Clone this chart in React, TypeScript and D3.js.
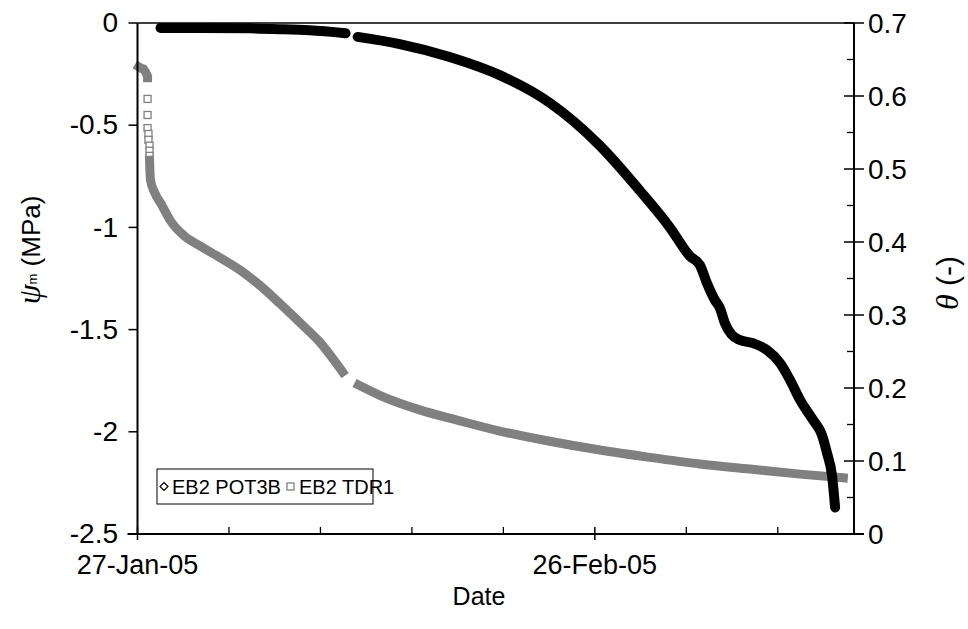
import React from "react";
import * as d3 from "d3";

// ---- data (days after 27-Jan-05, value) ----
const potBeforeGap: [number, number][] = [
  [1.51, -0.024], [4.07, -0.024], [7.35, -0.026], [9.32, -0.03], [11.29, -0.036], [13.65, -0.05],
];
const potAfterGap: [number, number][] = [
  [14.44, -0.068], [17.2, -0.103], [20.48, -0.166], [23.76, -0.255], [27.04, -0.39],
  [30.33, -0.6], [32.95, -0.82], [34.92, -1.0], [36.23, -1.14], [36.89, -1.184],
  [37.35, -1.272], [37.87, -1.355], [38.2, -1.394], [38.53, -1.468], [38.99, -1.526],
  [39.52, -1.551], [40.37, -1.566], [41.29, -1.6], [42.14, -1.663], [42.8, -1.746],
  [43.46, -1.844], [44.31, -1.942], [44.9, -2.016], [45.23, -2.104], [45.56, -2.215],
  [45.76, -2.37],
];
const tdrCluster: [number, number][] = [
  [0.08, 0.64], [0.23, 0.638], [0.39, 0.637], [0.53, 0.633], [0.66, 0.627], [0.66, 0.625],
];
const tdrSparse: [number, number][] = [
  [0.66, 0.596], [0.66, 0.574], [0.66, 0.556], [0.72, 0.548], [0.72, 0.54], [0.79, 0.532],
  [0.79, 0.525], [0.79, 0.518],
];
const tdrBeforeGap: [number, number][] = [
  [0.79, 0.512], [0.85, 0.485], [1.12, 0.468], [1.58, 0.451], [2.23, 0.427], [3.09, 0.408],
  [4.07, 0.395], [5.38, 0.379], [6.7, 0.362], [8.0, 0.341], [9.32, 0.316], [10.63, 0.29],
  [11.95, 0.263], [13.45, 0.222],
];
const tdrAfterGap: [number, number][] = [
  [14.5, 0.204], [15.89, 0.19], [18.51, 0.17], [21.14, 0.155], [23.76, 0.141], [27.04, 0.127],
  [30.33, 0.115], [33.61, 0.105], [36.89, 0.096], [40.17, 0.089], [43.46, 0.082], [46.3, 0.077],
];

const leftTicks = [0, -0.5, -1, -1.5, -2, -2.5];
const rightTicks = [0, 0.1, 0.2, 0.3, 0.4, 0.5, 0.6, 0.7];
const rightMinor = [0.05, 0.15, 0.25, 0.35, 0.45, 0.55, 0.65];
const xMajorDays = [0, 30];
const xMajorLabels = ["27-Jan-05", "26-Feb-05"];
const xMinorDays = [6, 12, 18, 24, 36, 42];
const seriesNames = ["EB2 POT3B", "EB2 TDR1"];

const START = new Date(2005, 0, 27);
const dayToDate = (d: number) => new Date(START.getTime() + d * 86400000);

const L = 137.5, R = 854, T = 23, B = 534;
const FONT = "Liberation Sans, Arial, sans-serif";
const FS = 28;

export default function App() {
  const x = d3.scaleTime().domain([START, dayToDate(47)]).range([L, R]);
  const yL = d3.scaleLinear().domain([-2.5, 0]).range([B, T]);
  const yR = d3.scaleLinear().domain([0, 0.7]).range([B, T]);

  const lineL = d3.line<[number, number]>().x((d) => x(dayToDate(d[0]))).y((d) => yL(d[1])).curve(d3.curveMonotoneX);
  const lineR = d3.line<[number, number]>().x((d) => x(dayToDate(d[0]))).y((d) => yR(d[1])).curve(d3.curveMonotoneX);
  const lineRc = d3.line<[number, number]>().x((d) => x(dayToDate(d[0]))).y((d) => yR(d[1]));

  const gray = "#808080";

  return (
    <svg width={968} height={629} style={{ position: "absolute", left: 0, top: 0, background: "#fff" }} fontFamily={FONT}>
      <rect x={0} y={0} width={968} height={629} fill="#fff" />
      {/* gray series */}
      <path d={lineRc(tdrCluster) || ""} fill="none" stroke={gray} strokeWidth={9} strokeLinecap="square" />
      {tdrSparse.map((d, i) => (
        <rect key={i} x={x(dayToDate(d[0])) - 3.5} y={yR(d[1]) - 3.5} width={7} height={7} fill="#fff" stroke={gray} strokeWidth={1.3} />
      ))}
      <path d={lineR(tdrBeforeGap) || ""} fill="none" stroke={gray} strokeWidth={9} strokeLinecap="square" />
      <path d={lineR(tdrAfterGap) || ""} fill="none" stroke={gray} strokeWidth={9} strokeLinecap="square" />
      {/* black series */}
      <path d={lineL(potBeforeGap) || ""} fill="none" stroke="#000" strokeWidth={10} strokeLinecap="round" />
      <path d={lineL(potAfterGap) || ""} fill="none" stroke="#000" strokeWidth={10} strokeLinecap="round" />

      {/* frame */}
      <line x1={L} x2={R} y1={T} y2={T} stroke="#000" strokeWidth={1.5} />
      <line x1={L} x2={L} y1={T} y2={B} stroke="#000" strokeWidth={2} />
      <line x1={R} x2={R} y1={T} y2={B} stroke="#000" strokeWidth={2} />
      <line x1={L - 10} x2={R + 10} y1={B} y2={B} stroke="#000" strokeWidth={2} />

      {/* left axis */}
      {leftTicks.map((v) => (
        <g key={v}>
          <line x1={L - 9} x2={L} y1={yL(v)} y2={yL(v)} stroke="#000" strokeWidth={1.5} />
          <text x={118} y={yL(v)} dy="0.33em" textAnchor="end" fontSize={FS}>{v}</text>
        </g>
      ))}
      {/* right axis */}
      {rightTicks.map((v) => (
        <g key={v}>
          <line x1={R - 10} x2={R + 10} y1={yR(v)} y2={yR(v)} stroke="#000" strokeWidth={1.5} />
          <text x={868} y={yR(v)} dy="0.35em" textAnchor="start" fontSize={FS}>{v === 0 ? "0" : v.toFixed(1)}</text>
        </g>
      ))}
      {rightMinor.map((v) => (
        <line key={v} x1={R - 7} x2={R} y1={yR(v)} y2={yR(v)} stroke="#000" strokeWidth={1.3} />
      ))}
      {/* x axis */}
      {xMajorDays.map((d, i) => (
        <g key={d}>
          <line x1={x(dayToDate(d))} x2={x(dayToDate(d))} y1={B - 7} y2={B + 6} stroke="#000" strokeWidth={1.5} />
          <text x={x(dayToDate(d))} y={574} textAnchor="middle" fontSize={27}>{xMajorLabels[i]}</text>
        </g>
      ))}
      {xMinorDays.map((d) => (
        <line key={d} x1={x(dayToDate(d))} x2={x(dayToDate(d))} y1={B - 7} y2={B} stroke="#000" strokeWidth={1.3} />
      ))}
      <text x={479} y={605} textAnchor="middle" fontSize={25}>Date</text>

      {/* left title */}
      <text transform="translate(40,250) rotate(-90)" textAnchor="middle" fontSize={26}>
        <tspan fontFamily="Liberation Serif, serif" fontStyle="italic" fontSize={32}>ψ</tspan>
        <tspan fontSize={13} dy={-3}>m</tspan>
        <tspan dy={3}> (MPa)</tspan>
      </text>
      {/* right title */}
      <text transform="translate(958,283) rotate(-90)" textAnchor="middle" fontSize={30}>
        <tspan fontFamily="Liberation Serif, serif" fontStyle="italic" fontSize={32}>θ</tspan>
        <tspan>{"    (-)"}</tspan>
      </text>

      {/* legend */}
      <g>
        <rect x={157} y={469} width={216} height={35} fill="#fff" stroke="#000" strokeWidth={1} />
        <path d={`M164,482.5 L168,486.5 L164,490.5 L160,486.5 Z`} fill="#fff" stroke="#000" strokeWidth={1.2} />
        <text x={172} y={486.5} dy="0.35em" fontSize={20}>{seriesNames[0]}</text>
        <rect x={287} y={483} width={7} height={7} fill="#fff" stroke={gray} strokeWidth={1.3} />
        <text x={299} y={486.5} dy="0.35em" fontSize={20}>{seriesNames[1]}</text>
      </g>
    </svg>
  );
}
